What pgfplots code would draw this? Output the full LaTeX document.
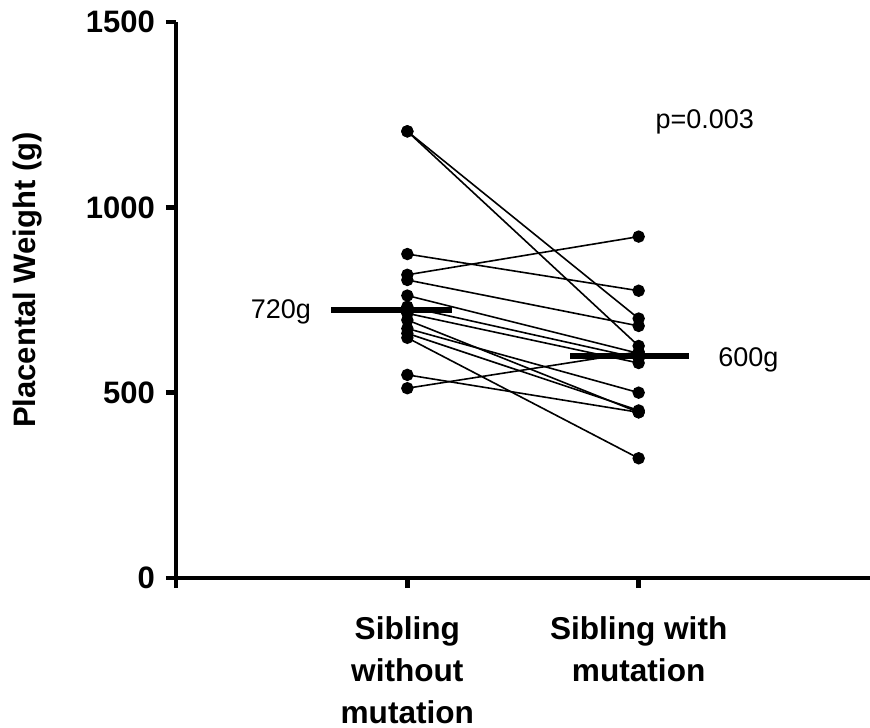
\documentclass[border=0pt]{standalone}
\usepackage{fontspec}
\setmainfont{Liberation Sans}
\usepackage{pgfplots}
\pgfplotsset{compat=1.18}
\begin{document}
\begin{tikzpicture}
\useasboundingbox (-88pt,-74.5pt) rectangle (347pt,289pt);
\begin{axis}[
  at={(0,0)}, anchor=south west,
  scale only axis, width=347pt, height=278pt,
  xmin=0, xmax=3, ymin=0, ymax=1500,
  axis lines=left, axis line style={line width=2.3pt, -},
  clip=false,
  tick align=outside,
  major tick length=5pt,
  every tick/.style={black, line width=2.3pt},
  ytick={0,500,1000,1500},
  xtick={0,1,2},
  xticklabels={,{Sibling\\without\\mutation},{Sibling with\\mutation}},
  /pgf/number format/assume math mode=true,
  yticklabel style={font=\fontsize{15.5}{17}\selectfont\bfseries, xshift=-2pt},
  xticklabel style={font=\fontsize{15.8}{20.8}\selectfont\bfseries, align=center, anchor=north, yshift=-11pt},
  scaled y ticks=false,
  yticklabel={\pgfmathprintnumber[fixed,1000 sep={}]{\tick}},
]
\pgfplotsset{pair/.style={black, line width=0.8pt, mark=*, mark size=2.7pt, mark options={solid, fill=black}}}
\addplot[pair] coordinates {(1,1205) (2,700)};
\addplot[pair] coordinates {(1,1205) (2,626)};
\addplot[pair] coordinates {(1,874) (2,775)};
\addplot[pair] coordinates {(1,818) (2,921)};
\addplot[pair] coordinates {(1,804) (2,680)};
\addplot[pair] coordinates {(1,762) (2,606)};
\addplot[pair] coordinates {(1,732) (2,593)};
\addplot[pair] coordinates {(1,714) (2,580)};
\addplot[pair] coordinates {(1,696) (2,447)};
\addplot[pair] coordinates {(1,673) (2,500)};
\addplot[pair] coordinates {(1,660) (2,452)};
\addplot[pair] coordinates {(1,648) (2,323)};
\addplot[pair] coordinates {(1,548) (2,447)};
\addplot[pair] coordinates {(1,512) (2,610)};
\addplot[black, line width=3pt] coordinates {(0.671,722) (1.192,722)};
\addplot[black, line width=3pt] coordinates {(1.705,600) (2.218,600)};
\node[font=\fontsize{13.5}{15}\selectfont] at (axis cs:0.453,717) {720g};
\node[font=\fontsize{13.5}{15}\selectfont] at (axis cs:2.474,588) {600g};
\node[font=\fontsize{13.5}{15}\selectfont] at (axis cs:2.286,1230) {p=0.003};
\node[rotate=90, font=\fontsize{15.5}{17}\selectfont\bfseries] at ([xshift=-74pt]rel axis cs:0,0.536) {Placental Weight (g)};
\end{axis}
\end{tikzpicture}
\end{document}
